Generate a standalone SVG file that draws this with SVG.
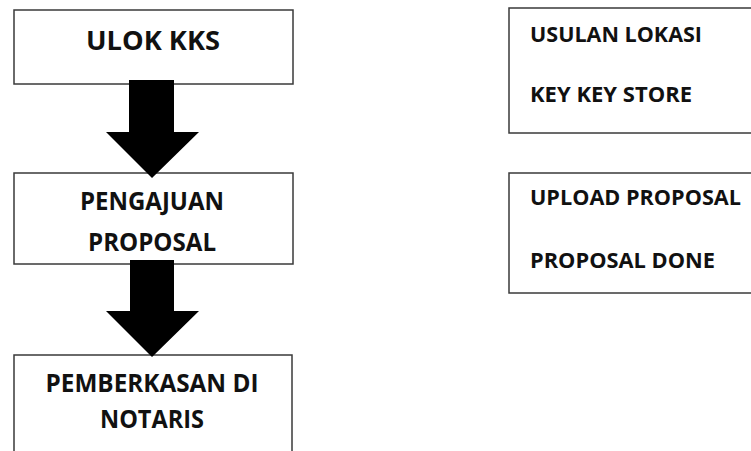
<svg xmlns="http://www.w3.org/2000/svg" width="751" height="451" viewBox="0 0 751 451">
<style>
.box{fill:#fff;stroke:#3a3a3a;stroke-width:1.5}
.t{font-family:"Open Sans","Noto Sans","Liberation Sans",sans-serif;font-weight:bold;fill:#111}
.arr{fill:#000}
</style>
<rect width="751" height="451" fill="#fff"/>
<g id="ulok"><rect class="box" x="14" y="10" width="279" height="74"/><text class="t" x="153" y="50" font-size="27" text-anchor="middle" textLength="134" lengthAdjust="spacingAndGlyphs">ULOK KKS</text></g>
<g id="pengajuan"><rect class="box" x="14" y="173" width="279" height="91"/><text class="t" x="152" y="210" font-size="24.5" text-anchor="middle" textLength="144" lengthAdjust="spacingAndGlyphs">PENGAJUAN</text><text class="t" x="152" y="251" font-size="24.5" text-anchor="middle" textLength="128" lengthAdjust="spacingAndGlyphs">PROPOSAL</text></g>
<g id="pemberkasan"><rect class="box" x="14" y="355" width="278" height="110"/><text class="t" x="152" y="392" font-size="25" text-anchor="middle" textLength="213" lengthAdjust="spacingAndGlyphs">PEMBERKASAN DI</text><text class="t" x="152" y="428" font-size="25" text-anchor="middle" textLength="104" lengthAdjust="spacingAndGlyphs">NOTARIS</text></g>
<g id="usulan"><rect class="box" x="509" y="8" width="260" height="125"/><text class="t" x="530" y="42" font-size="22" textLength="172" lengthAdjust="spacingAndGlyphs">USULAN LOKASI</text><text class="t" x="530" y="102" font-size="22" textLength="162" lengthAdjust="spacingAndGlyphs">KEY KEY STORE</text></g>
<g id="upload"><rect class="box" x="509" y="173" width="260" height="120"/><text class="t" x="530" y="205" font-size="22" textLength="211" lengthAdjust="spacingAndGlyphs">UPLOAD PROPOSAL</text><text class="t" x="530" y="268" font-size="22" textLength="185" lengthAdjust="spacingAndGlyphs">PROPOSAL DONE</text></g>
<g id="connectors">
<polygon class="arr" points="129,80 174,80 174,132 199,132 152,178 106,132 129,132"/>
<polygon class="arr" points="130,260 174,260 174,311 199,311 152,357 106,311 130,311"/>
</g>
</svg>
